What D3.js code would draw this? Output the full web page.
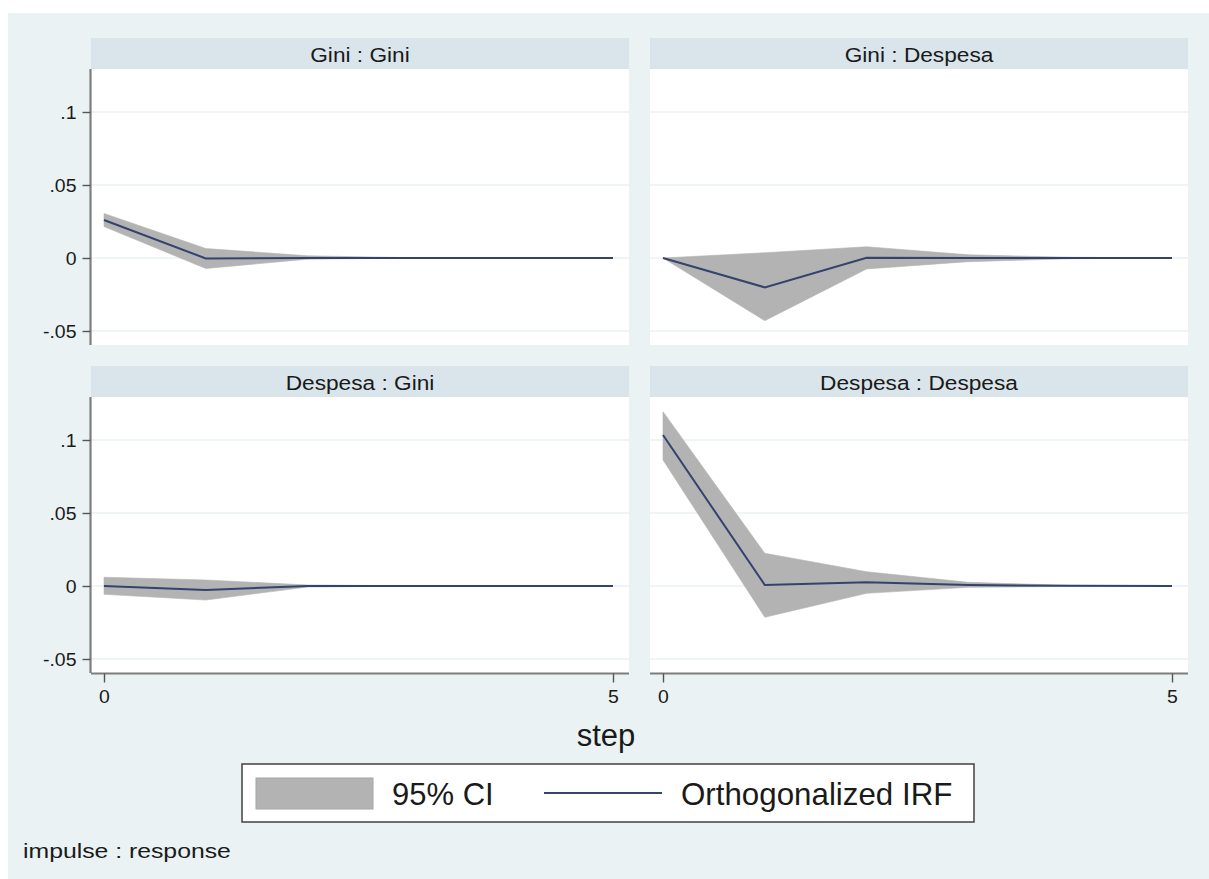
<!DOCTYPE html>
<html>
<head>
<meta charset="utf-8">
<script src="https://cdn.jsdelivr.net/npm/d3@7"></script>
<style>
  html, body { margin: 0; padding: 0; background: #ffffff; }
  svg { display: block; }
  text { font-family: "Liberation Sans", Arial, sans-serif; fill: #1a1a1a; }
</style>
</head>
<body>
<svg id="chart" width="1209" height="879"></svg>
<script>
// Forecast horizon
const steps = [0, 1, 2, 3, 4, 5];

// Panel titles (impulse : response)
const panelTitles = ["Gini : Gini", "Gini : Despesa", "Despesa : Gini", "Despesa : Despesa"];

// Orthogonalized impulse responses
const irfGiniGini       = [0.0260, -0.0003, 0.0000, 0.0000, 0.0000, 0.0000];
const irfGiniDespesa    = [0.0000, -0.0201, 0.0002, 0.0000, 0.0000, 0.0000];
const irfDespesaGini    = [0.0000, -0.0027, 0.0000, 0.0000, 0.0000, 0.0000];
const irfDespesaDespesa = [0.1034, 0.0007, 0.0025, 0.0007, 0.0001, 0.0000];

// 95% confidence bands (lower / upper)
const loGiniGini       = [0.0215, -0.0072, -0.0008, -0.0001, 0.0000, 0.0000];
const hiGiniGini       = [0.0305, 0.0065, 0.0015, 0.0002, 0.0000, 0.0000];
const loGiniDespesa    = [0.0000, -0.0429, -0.0075, -0.0025, -0.0005, 0.0000];
const hiGiniDespesa    = [0.0000, 0.0036, 0.0077, 0.0022, 0.0005, 0.0000];
const loDespesaGini    = [-0.0057, -0.0096, -0.0007, -0.0001, 0.0000, 0.0000];
const hiDespesaGini    = [0.0060, 0.0041, 0.0007, 0.0001, 0.0000, 0.0000];
const loDespesaDespesa = [0.0863, -0.0214, -0.0050, -0.0009, -0.0003, 0.0000];
const hiDespesaDespesa = [0.1194, 0.0224, 0.0098, 0.0025, 0.0004, 0.0000];

// Axis ticks
const yTicks = [-0.05, 0, 0.05, 0.1];
const yTickLabels = ["-.05", "0", ".05", ".1"];
const xTicks = [0, 5];

// Legend and notes
const legendLabels = ["95% CI", "Orthogonalized IRF"];
const xAxisTitle = "step";
const noteText = "impulse : response";

const panels = [
  { title: panelTitles[0], irf: irfGiniGini, lo: loGiniGini, hi: hiGiniGini, col: 0, row: 0 },
  { title: panelTitles[1], irf: irfGiniDespesa, lo: loGiniDespesa, hi: hiGiniDespesa, col: 1, row: 0 },
  { title: panelTitles[2], irf: irfDespesaGini, lo: loDespesaGini, hi: hiDespesaGini, col: 0, row: 1 },
  { title: panelTitles[3], irf: irfDespesaDespesa, lo: loDespesaDespesa, hi: hiDespesaDespesa, col: 1, row: 1 }
];

// Colours
const C = {
  bg: "#eaf2f3",
  strip: "#d9e5ea",
  plot: "#ffffff",
  grid: "#eaf2f3",
  axis: "#7d7d7d",
  band: "#b3b3b3",
  line: "#35426d",
  text: "#151515"
};

const svg = d3.select("#chart");

// Graph region
svg.append("rect").attr("x", 8).attr("y", 13).attr("width", 1201).attr("height", 866).attr("fill", C.bg);

// Panel geometry
const colX = [91, 650];
const panelW = 538;
const rowY = [38, 366];      // top of title strip
const stripH = 31;
const plotH = 276;

// Text helper with optional horizontal stretch
function label(g, x, y, str, size, anchor, sx) {
  return g.append("text")
    .attr("transform", `translate(${x},${y}) scale(${sx || 1},1)`)
    .attr("font-size", size)
    .attr("text-anchor", anchor || "start")
    .attr("fill", C.text)
    .text(str);
}

panels.forEach(p => {
  const x0 = colX[p.col];
  const top = rowY[p.row];
  const plotTop = top + stripH;
  const g = svg.append("g");

  // Title strip
  g.append("rect").attr("x", x0).attr("y", top).attr("width", panelW).attr("height", stripH).attr("fill", C.strip);
  label(g, x0 + panelW / 2, top + 23.5, p.title, 21, "middle", 1.08);

  // Plot region
  g.append("rect").attr("x", x0).attr("y", plotTop).attr("width", panelW).attr("height", plotH).attr("fill", C.plot);

  const x = d3.scaleLinear().domain([0, 5]).range([x0 + 13, x0 + 522]);
  const y = d3.scaleLinear().domain([-0.05, 0.1]).range([plotTop + 262, plotTop + 43]);

  // Gridlines
  g.append("g").selectAll("line").data(yTicks).join("line")
    .attr("x1", x0).attr("x2", x0 + panelW)
    .attr("y1", d => y(d)).attr("y2", d => y(d))
    .attr("stroke", C.grid).attr("stroke-width", 1.6);

  // Confidence band
  const area = d3.area()
    .x((d, i) => x(steps[i]))
    .y0((d, i) => y(p.lo[i]))
    .y1((d, i) => y(p.hi[i]));
  g.append("path").datum(p.lo).attr("d", area).attr("fill", C.band).attr("stroke", C.band).attr("stroke-width", 0.6);

  // IRF line
  const line = d3.line().x((d, i) => x(steps[i])).y(d => y(d));
  g.append("path").datum(p.irf).attr("d", line).attr("fill", "none")
    .attr("stroke", C.line).attr("stroke-width", 2);

  // Y axis on left column
  if (p.col === 0) {
    const ya = g.append("g").attr("transform", `translate(${x0 - 0.5},0)`)
      .call(d3.axisLeft(y).tickValues(yTicks).tickSize(8).tickPadding(5)
        .tickFormat((d, i) => yTickLabels[i]));
    ya.attr("font-size", 18).attr("font-family", "'Liberation Sans', Arial, sans-serif");
    ya.select(".domain").attr("d", `M0,${plotTop}V${plotTop + plotH}`)
      .attr("stroke", C.axis).attr("stroke-width", 2.2);
    ya.selectAll(".tick line").attr("stroke", "#555").attr("stroke-width", 1.4);
    ya.selectAll(".tick text").attr("font-size", 18).attr("fill", C.text)
      .attr("transform", "scale(1.08,1)").attr("dy", "0.36em");
  }

  // X axis on bottom row
  if (p.row === 1) {
    const xa = g.append("g").attr("transform", `translate(0,${plotTop + plotH + 0.5})`)
      .call(d3.axisBottom(x).tickValues(xTicks).tickSize(9).tickPadding(8).tickFormat(d3.format("d")));
    xa.attr("font-size", 18).attr("font-family", "'Liberation Sans', Arial, sans-serif");
    xa.select(".domain").attr("d", `M${x0},0H${x0 + panelW}`)
      .attr("stroke", C.axis).attr("stroke-width", 2.2);
    xa.selectAll(".tick line").attr("stroke", "#555").attr("stroke-width", 1.4);
    xa.selectAll(".tick text").attr("font-size", 18).attr("fill", C.text)
      .attr("transform", "scale(1.08,1)");
  }
});

// X axis title
label(svg, 606, 746, xAxisTitle, 31, "middle", 1.0);

// Legend
const lg = svg.append("g");
lg.append("rect").attr("x", 242).attr("y", 764).attr("width", 732).attr("height", 58)
  .attr("fill", "#ffffff").attr("stroke", "#4d4d4d").attr("stroke-width", 1.6);
lg.append("rect").attr("x", 256).attr("y", 778).attr("width", 117).attr("height", 31)
  .attr("fill", C.band).attr("stroke", "#a6a6a6").attr("stroke-width", 1);
label(lg, 392, 805, legendLabels[0], 31, "start", 1.0);
lg.append("line").attr("x1", 544).attr("x2", 662).attr("y1", 793).attr("y2", 793)
  .attr("stroke", C.line).attr("stroke-width", 2);
label(lg, 681, 805, legendLabels[1], 31, "start", 1.01);

// Note
label(svg, 23, 858, noteText, 21, "start", 1.18);
</script>
</body>
</html>
